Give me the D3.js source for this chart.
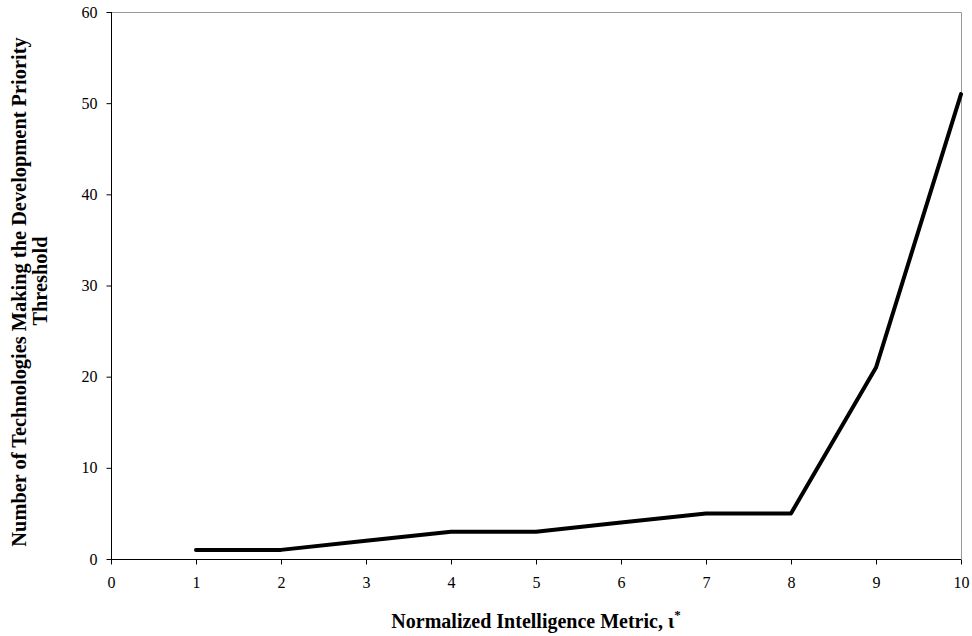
<!DOCTYPE html>
<html><head><meta charset="utf-8">
<script src="https://cdn.jsdelivr.net/npm/d3@7"></script>
<style>body{margin:0;background:#fff}svg{display:block}text{font-family:"Liberation Serif","Times New Roman",serif}</style>
</head><body>
<svg id="c" width="972" height="636"></svg>
<script>
const xValues = [1,2,3,4,5,6,7,8,9,10];
const yValues = [1,1,2,3,3,4,5,5,21,51];
const xTicks = [0,1,2,3,4,5,6,7,8,9,10];
const yTicks = [0,10,20,30,40,50,60];

const svg = d3.select("#c");
const L = 111, R = 961, T = 12, B = 559;
const x = d3.scaleLinear().domain([0,10]).range([L,R]);
const y = d3.scaleLinear().domain([0,60]).range([B,T]);

svg.append("path").attr("d",`M${L},${T+0.5}H${R+0.5}V${B}`).attr("fill","none").attr("stroke","#999").attr("stroke-width",1);

const yAxis = svg.append("g").attr("transform",`translate(${L+0.5},0)`)
  .call(d3.axisLeft(y).tickValues(yTicks).tickSize(5).tickPadding(9).tickFormat(d3.format("d")));
const xAxis = svg.append("g").attr("transform",`translate(0,${B+0.5})`)
  .call(d3.axisBottom(x).tickValues(xTicks).tickSize(5).tickPadding(12).tickFormat(d3.format("d")));
[yAxis,xAxis].forEach(g=>{
  g.attr("font-family","Liberation Serif, serif").attr("font-size",16);
  g.selectAll("path,line").attr("stroke","#000");
  g.select(".domain").attr("d", g===yAxis ? `M0,${B}V${T}` : `M${L},0H${R}`);
  g.selectAll("text").attr("fill","#000");
});

svg.append("path").datum(xValues.map((v,i)=>[v,yValues[i]]))
  .attr("d", d3.line().x(d=>x(d[0])).y(d=>y(d[1])))
  .attr("fill","none").attr("stroke","#000").attr("stroke-width",4)
  .attr("stroke-linejoin","round").attr("stroke-linecap","round");

const xt = svg.append("text").attr("x",536).attr("y",628).attr("text-anchor","middle")
  .style("font-size","20px").attr("font-weight","bold");
xt.append("tspan").text("Normalized Intelligence Metric, ι");
xt.append("tspan").attr("dy",-9).style("font-size","13px").text("*");

svg.append("text").attr("transform","translate(26,292) rotate(-90)")
  .attr("text-anchor","middle").style("font-size","20.4px").attr("font-weight","bold")
  .text("Number of Technologies Making the Development Priority");
svg.append("text").attr("transform","translate(47,281) rotate(-90)")
  .attr("text-anchor","middle").style("font-size","20.4px").attr("font-weight","bold")
  .text("Threshold");
</script>
</body></html>
